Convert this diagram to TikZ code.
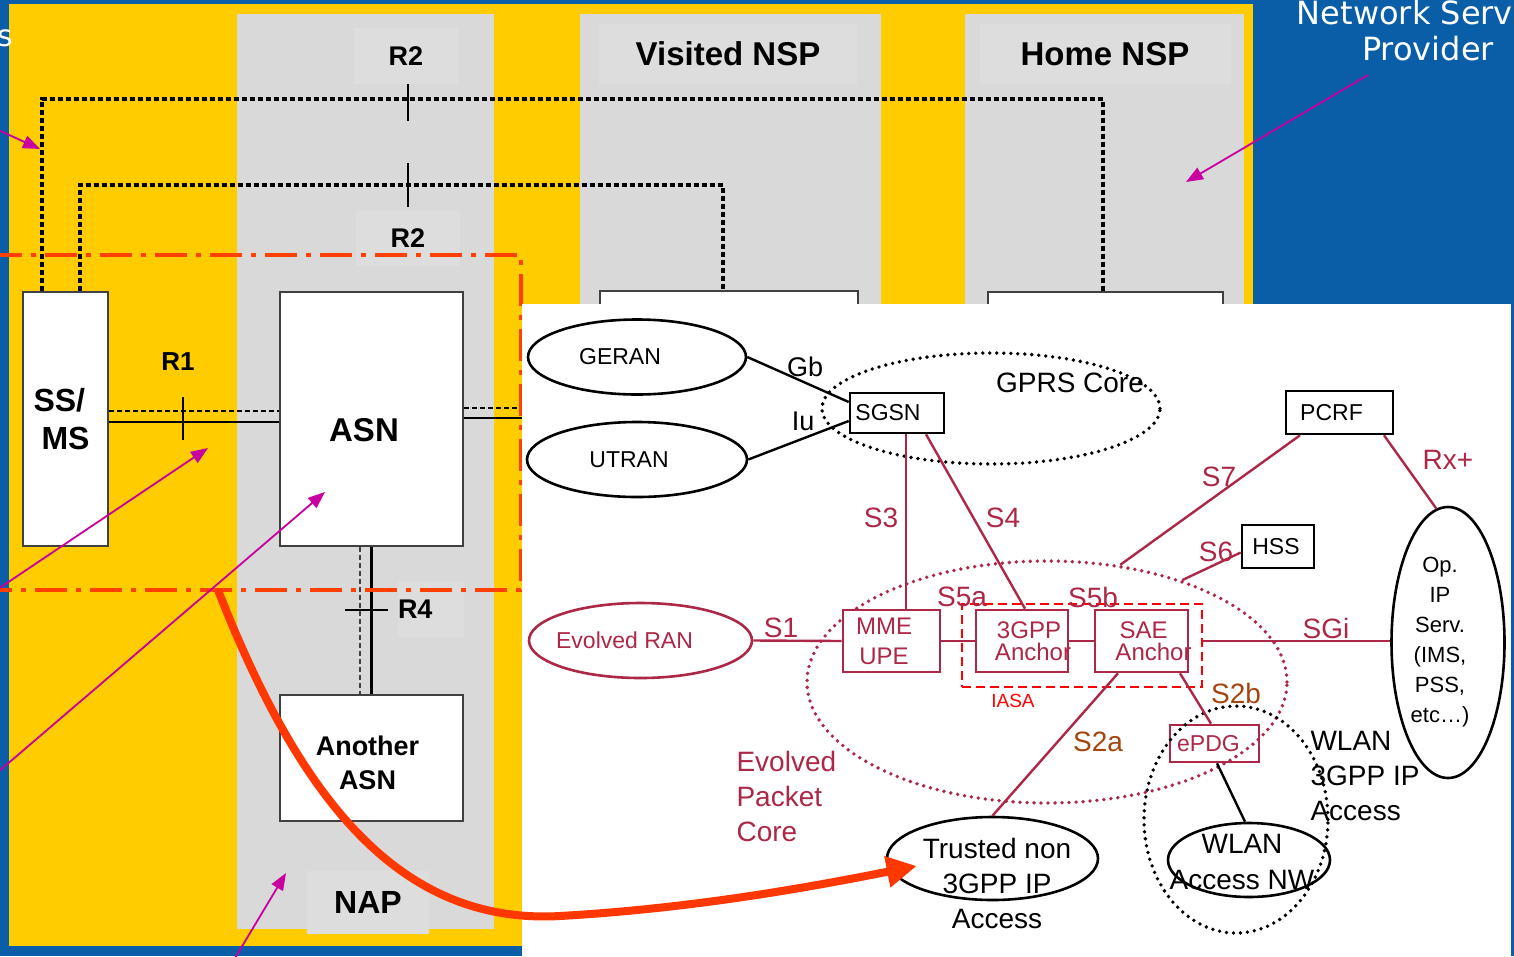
\documentclass[tikz,border=0pt]{standalone}
\usepackage{fontspec}
\setmainfont{Liberation Sans}
\newfontfamily\nspfont{DejaVu Sans}
\usepackage{xcolor}
\definecolor{slideblue}{RGB}{10,94,168}
\definecolor{slideyellow}{RGB}{255,204,0}
\definecolor{panelgray}{RGB}{217,217,217}
\definecolor{tilegray}{RGB}{221,221,221}
\definecolor{boxgray}{RGB}{64,64,64}
\definecolor{napline}{RGB}{255,64,0}
\definecolor{hotorange}{RGB}{255,55,0}
\definecolor{pointmag}{RGB}{200,0,160}
\definecolor{epcred}{RGB}{172,40,70}
\definecolor{s2brown}{RGB}{165,70,15}
\usetikzlibrary{arrows.meta, shapes.geometric, positioning}

\begin{document}
\begin{tikzpicture}[
  x=1pt, y=-1pt,
  panel/.style={fill=panelgray},
  tile/.style={fill=tilegray, inner sep=0pt, font=\bfseries\fontsize{27}{32}\selectfont},
  wbox/.style={draw=boxgray, line width=1.4pt, fill=white, inner sep=0pt, font=\bfseries\fontsize{32}{40}\selectfont},
  rlabel/.style={font=\bfseries\fontsize{26}{30}\selectfont},
  dotsig/.style={line width=3.4pt, dash pattern=on 5pt off 3pt},
  sig/.style={line width=2.4pt},
  tickmark/.style={line width=1.4pt},
  dashdot/.style={draw=napline, line width=3.6pt, dash pattern=on 32pt off 9pt on 5pt off 9pt},
  pointer/.style={draw=pointmag, line width=1.8pt, -{Triangle[length=17pt,width=13pt]}},
  hotcurve/.style={draw=hotorange, line width=8pt, -{Triangle[length=30pt,width=30pt]}},
  gbox/.style={draw, line width=2.6pt, fill=white, inner sep=0pt, font=\fontsize{23}{27}\selectfont},
  ebox/.style={draw=epcred, line width=2.6pt, fill=white, text=epcred, inner sep=0pt, align=center},
  oval/.style={ellipse, draw, line width=2.6pt, fill=white, inner sep=0pt, font=\fontsize{23}{27}\selectfont},
  dotoval/.style={ellipse, draw, line width=3.8pt, dash pattern=on 0pt off 7pt, line cap=round, inner sep=0pt},
  elink/.style={draw=epcred, line width=2.4pt},
  redtag/.style={text=epcred, font=\fontsize{28}{32}\selectfont},
  blacktag/.style={font=\fontsize{27}{32}\selectfont},
  browntag/.style={text=s2brown, font=\fontsize{28}{32}\selectfont}
]
\useasboundingbox (0,0) rectangle (1514,956);
\clip (0,0) rectangle (1514,956);
\fill[slideblue] (0,0) rectangle (1514,956);
\fill[slideyellow] (9,4) rectangle (1253,946);
\fill[panel] (237,14) rectangle (494,929);
\fill[panel] (580,14) rectangle (881,929);
\fill[panel] (965,14) rectangle (1244,929);

\node[tile, minimum width=104pt, minimum height=56pt] (r2up) at (406,56) {R2};
\node[tile, minimum width=104pt, minimum height=55pt] (r2low) at (408,238) {R2};
\node[tile, font=\bfseries\fontsize{33}{38}\selectfont, minimum width=258pt, minimum height=60pt] (vnsp) at (728,54) {Visited NSP};
\node[tile, font=\bfseries\fontsize{33}{38}\selectfont, minimum width=251pt, minimum height=60pt] (hnsp) at (1105,54) {Home NSP};
\node[tile, font=\bfseries\fontsize{32}{38}\selectfont, minimum width=122pt, minimum height=63pt] (nap) at (368,902) {NAP};
\node[tile, text width=66pt, align=left, minimum height=56pt] (rfour) at (431,609) {R4};

\node[wbox, minimum width=85pt, minimum height=254pt, align=left] (ssms) at (65.5,419) {\hspace*{-8pt}SS/\\[-2pt]MS};
\node[wbox, minimum width=183pt, minimum height=254pt,
  label={[font=\bfseries\fontsize{33}{40}\selectfont, xshift=-7.5pt, yshift=-11pt]center:ASN}] (asn) at (371.5,419) {};
\node[wbox, minimum width=183pt, minimum height=126pt,
  label={[font=\bfseries\fontsize{27}{34}\selectfont, align=center, xshift=-4pt, yshift=-5pt]center:Another\\ASN}] (another) at (371.5,758) {};
\node[wbox, minimum width=258pt, minimum height=60pt] (visited) at (729,321) {};
\node[wbox, minimum width=235pt, minimum height=60pt] (home) at (1105.5,322) {};

\coordinate (hopouter) at (1103,99);
\coordinate (hopinner) at (723,185);
\draw[dotsig] ([xshift=-23.5pt]ssms.north) |- (hopouter) -- (hopouter |- home.north);
\draw[dotsig] ([xshift=14.5pt]ssms.north) |- (hopinner) -- (hopinner |- visited.north);
\draw[tickmark] (408,84) -- (408,121);
\draw[tickmark] (408,163) -- (408,207);

\draw[sig] ([yshift=-3pt]ssms.east) -- ([yshift=-3pt]asn.west);
\draw[dotsig, line width=2.6pt] ([yshift=8pt]ssms.east) -- ([yshift=8pt]asn.west);
\draw[tickmark] (183,397) -- (183,440);
\node[rlabel] (rone) at (178,362) {R1};

\coordinate (asnhi) at ([yshift=11pt]asn.east);
\coordinate (asnlo) at ([yshift=1pt]asn.east);
\draw[dotsig, line width=2.6pt] (asnhi) -- (asnhi -| visited.west);
\draw[sig] (asnlo) -- (asnlo -| visited.west);

\draw[sig] (asn.south) -- (another.north);
\draw[dotsig, line width=2.2pt, boxgray] ([xshift=-11.5pt]asn.south) -- ([xshift=-11.5pt]another.north);
\draw[tickmark] (345,610) -- (388,610);

\draw[dashdot] (-10,255) -| (521,590) -- (-10,590);

\fill[white] (521.5,304) rectangle (1511,956);

\node[dotoval, minimum width=338pt, minimum height=111pt] (gprs) at (991,408.5) {};
\node[dotoval, draw=epcred, minimum width=480pt, minimum height=242pt] (epc) at (1047,682) {};
\node[draw=red, line width=2.6pt, dash pattern=on 9pt off 5pt, minimum width=240pt, minimum height=83pt] (iasa) at (1082,645.5) {};

\node[oval, minimum width=218pt, minimum height=75pt] (geran) at (637,357) {\hspace*{-34pt}GERAN};
\node[oval, minimum width=220pt, minimum height=75pt] (utran) at (637,459.5) {\hspace*{-16pt}UTRAN};
\node[gbox, minimum width=94pt, minimum height=40pt] (sgsn) at (897,413) {\hspace*{-18pt}SGSN};
\node[blacktag, font=\fontsize{28}{32}\selectfont] (gprstxt) at (1070,383) {GPRS Core};
\node[gbox, minimum width=107pt, minimum height=43pt] (pcrf) at (1339.5,412.5) {\hspace*{-16pt}PCRF};
\node[gbox, minimum width=72pt, minimum height=43pt] (hss) at (1278,546.5) {\hspace*{-4pt}HSS};
\node[oval, minimum width=113pt, minimum height=271pt,
  label={[font=\fontsize{22}{30}\selectfont, align=center, xshift=-8pt, yshift=0pt]center:Op.\\IP\\Serv.\\(IMS,\\PSS,\\etc…)}] (opip) at (1448,642.5) {};
\node[oval, draw=epcred, text=epcred, minimum width=223pt, minimum height=75pt] (eran) at (640.5,640.5) {\hspace*{-32pt}Evolved RAN};
\node[ebox, font=\fontsize{24}{30}\selectfont, minimum width=97pt, minimum height=62pt] (mme) at (891.5,641) {\hspace*{-15pt}MME\\\hspace*{-15pt}UPE};
\node[ebox, font=\fontsize{24}{22}\selectfont, minimum width=92pt, minimum height=62pt] (gpa) at (1022,641) {3GPP\hspace*{-14pt}\\\hspace*{4pt}Anchor\hspace*{-18pt}};
\node[ebox, font=\fontsize{24}{22}\selectfont, minimum width=93pt, minimum height=62pt] (sae) at (1141.5,641) {SAE\hspace*{-4pt}\\\hspace*{4pt}Anchor\hspace*{-20pt}};
\node[text=red, font=\fontsize{19}{22}\selectfont] (iasatxt) at (1013,701) {IASA};
\node[ebox, fill=none, font=\fontsize{23}{27}\selectfont, minimum width=89pt, minimum height=37pt] (epdg) at (1214.5,743.5) {\hspace*{-12pt}ePDG};
\node[oval, minimum width=162pt, minimum height=74pt] (wlannw) at (1249,860) {};
\node[blacktag, font=\fontsize{28}{36}\selectfont, align=center] (wlannwtxt) at (1242,862) {WLAN\\Access NW};
\node[dotoval, minimum width=184pt, minimum height=227pt] (wlanzone) at (1236,819.5) {};
\node[oval, minimum width=211pt, minimum height=83pt] (trusted) at (992.5,858.5) {};
\node[blacktag, font=\fontsize{28}{35}\selectfont, align=center] (trustedtxt) at (997,883) {Trusted non\\3GPP IP\\Access};
\node[blacktag, font=\fontsize{28}{35}\selectfont, align=left, anchor=west] (wlantxt) at (1307,776) {WLAN\\3GPP IP\\Access};
\node[redtag, font=\fontsize{28}{35}\selectfont, align=left, anchor=west] (epctxt) at (733,796) {Evolved\\Packet\\Core};

\draw[line width=2.4pt] (geran.east) -- ([yshift=11pt]sgsn.west);
\draw[line width=2.4pt] (utran.east) -- ([yshift=-8pt]sgsn.west);
\node[blacktag] (gb) at (805,367) {Gb};
\node[blacktag] (iu) at (803,421) {Iu};

\coordinate (s3top) at ([xshift=9pt]sgsn.south);
\draw[elink] (s3top) -- (s3top |- mme.north);
\draw[elink] ([xshift=29pt]sgsn.south) -- ([xshift=3pt]gpa.north);
\draw[elink] (eran.east) -- (mme.west);
\draw[elink] (mme.east) -- (gpa.west);
\draw[elink] (gpa.east) -- (sae.west);
\draw[elink] (iasa.east |- sae.east) -- (opip.west |- sae.east);
\draw[elink] ([xshift=-39.5pt]pcrf.south) -- (epc.58);
\draw[elink] ([yshift=-6pt]hss.west) -- (epc.37);
\draw[elink] ([xshift=44.5pt]pcrf.south) -- (opip.95);
\draw[elink] ([xshift=-23.5pt]sae.south) -- (trusted.north);
\draw[elink] ([xshift=38.5pt]sae.south) -- ([xshift=-3.5pt]epdg.north);
\draw[line width=2.4pt] ([xshift=2.5pt]epdg.south) -- ([xshift=-4pt]wlannw.north);

\node[redtag] (sthree) at (881,518) {S3};
\node[redtag] (sfour) at (1003,518) {S4};
\node[redtag] (sfivea) at (962,597) {S5a};
\node[redtag] (sfiveb) at (1093,597) {S5b};
\node[redtag] (sone) at (781,628) {S1};
\node[redtag] (sgi) at (1326,628) {SGi};
\node[redtag] (sseven) at (1219,477) {S7};
\node[redtag] (ssix) at (1216,552) {S6};
\node[redtag] (rxplus) at (1448,460) {Rx+};
\node[browntag] (stwoa) at (1098,742) {S2a};
\node[browntag] (stwob) at (1236,693) {S2b};

\coordinate (ptA) at (-4,129); \coordinate (tipA) at (40,149);
\coordinate (ptB) at (-2,589); \coordinate (tipB) at (208,448);
\coordinate (ptC) at (-2,772); \coordinate (tipC) at (325,492);
\coordinate (ptD) at (235,958); \coordinate (tipD) at (286,873);
\coordinate (ptE) at (1368,75); \coordinate (tipE) at (1186,182);
\draw[pointer] (ptA) -- (tipA);
\draw[pointer] (ptB) -- (tipB);
\draw[pointer] (ptC) -- (tipC);
\draw[pointer] (ptD) -- (tipD);
\draw[pointer] (ptE) -- (tipE);

\coordinate (napexit) at (218,590);
\draw[hotcurve] (napexit) .. controls (300,800) and (400,925) .. (560,916) .. controls (700,908) and (820,885) .. ([xshift=31pt,yshift=-7.5pt]trusted.west);

\node[text=white, font=\nspfont\fontsize{32}{36}\selectfont, align=center] (nsp) at (1428,31) {Network Service\\Provider};
\node[text=white, font=\nspfont\fontsize{30}{36}\selectfont, anchor=base east] (cut) at (17,46) {s};
\end{tikzpicture}
\end{document}
